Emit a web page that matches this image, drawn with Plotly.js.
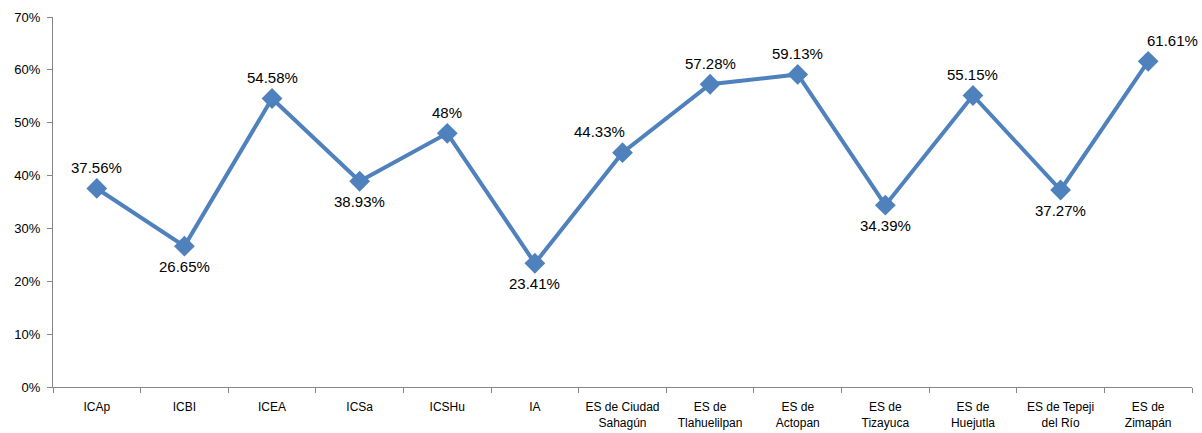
<!DOCTYPE html>
<html><head><meta charset="utf-8">
<script src="https://cdn.plot.ly/plotly-3.0.1.min.js"></script>
<style>html,body{margin:0;padding:0;background:#fff}#chart{width:1202px;height:433px}</style>
</head><body><div id="chart"></div>
<script>
const categories = ['ICAp','ICBI','ICEA','ICSa','ICSHu','IA','ES de Ciudad<br>Sahagún','ES de<br>Tlahuelilpan','ES de<br>Actopan','ES de<br>Tizayuca','ES de<br>Huejutla','ES de Tepeji<br>del Río','ES de<br>Zimapán'];
const values = [0.3756,0.2665,0.5458,0.3893,0.48,0.2341,0.4433,0.5728,0.5913,0.3439,0.5515,0.3727,0.6161];
const labels = ['37.56%','26.65%','54.58%','38.93%','48%','23.41%','44.33%','57.28%','59.13%','34.39%','55.15%','37.27%','61.61%'];
const labelPos = ['above','below','above','below','above','below','above-left','above','above','below','above','below','above-right'];

const trace = {
  x: categories, y: values, type:'scatter', mode:'lines+markers',
  line:{color:'#4F81BD', width:4},
  marker:{symbol:'diamond', size:16, color:'#4F81BD'},
  cliponaxis:false, hoverinfo:'none'
};
const annotations = categories.map((c,i)=>{
  const p = labelPos[i];
  const up = p.startsWith('above');
  return {
    x:c, y:values[i], xref:'x', yref:'y', text:labels[i], showarrow:false,
    xanchor:'center', yanchor:'middle',
    yshift: up ? 21 : -20,
    xshift: p.endsWith('left') ? -23 : (p.endsWith('right') ? 24 : 0),
    font:{family:'Liberation Sans, Arial, sans-serif', size:15, color:'#000'}
  };
});
const layout = {
  width:1202, height:433,
  margin:{l:53, r:10, t:17, b:46},
  paper_bgcolor:'#fff', plot_bgcolor:'#fff',
  showlegend:false,
  annotations,
  font:{family:'Liberation Sans, Arial, sans-serif', size:13, color:'#000'},
  xaxis:{type:'category', showgrid:false, zeroline:false, showline:true, linecolor:'#868686', linewidth:1,
         ticks:'outside', tickson:'boundaries', ticklen:5, tickcolor:'#868686', tickangle:0,
         ticklabelstandoff:9, tickfont:{size:12}, range:[-0.5,12.5]},
  yaxis:{range:[0,0.7], dtick:0.1, tickformat:'.0%', showgrid:false, zeroline:false, showline:true,
         linecolor:'#868686', linewidth:1, ticks:'outside', ticklen:5, tickcolor:'#868686',
         ticklabelstandoff:4, tickfont:{size:13}}
};
Plotly.newPlot('chart',[trace],layout,{staticPlot:true});
</script></body></html>
